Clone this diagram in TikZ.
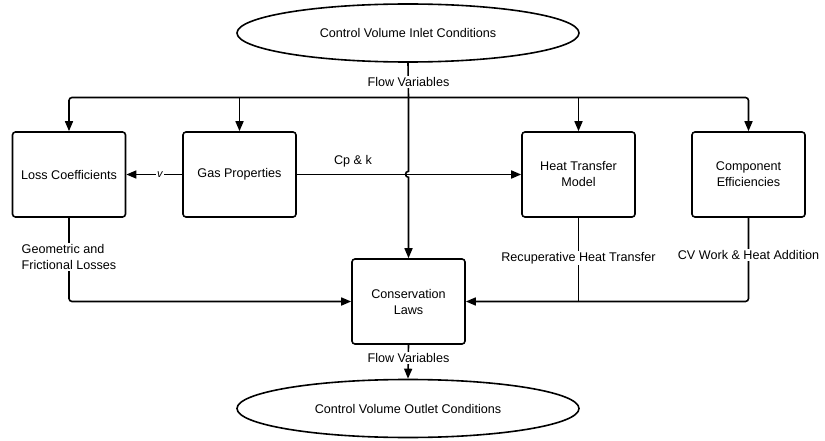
\documentclass[tikz,border=0pt]{standalone}
\usepackage{fontspec}
\setmainfont{Liberation Sans}
\usetikzlibrary{shapes.geometric,arrows.meta}
\begin{document}
\begin{tikzpicture}[x=1pt,y=-1pt,
  every node/.style={font=\fontsize{12.6}{16}\selectfont},
  box/.style={draw, line width=1.6pt, rounded corners=3pt, minimum width=113pt, minimum height=85pt, align=center, inner sep=0pt},
  oval/.style={draw, line width=1.6pt, ellipse, minimum width=342pt, minimum height=58pt, inner sep=0pt},
  conn/.style={line width=1.6pt},
  arr/.style={conn, -{Triangle[length=10pt,width=8pt]}},
  lbl/.style={fill=white, inner sep=1.5pt, align=center}]
\useasboundingbox (0,0) rectangle (825,441);
\node[oval] (in) at (408,33) {Control Volume Inlet Conditions};
\node[oval] (out) at (408,408.5) {Control Volume Outlet Conditions};
\node[box] (loss) at (69,174.5) {Loss Coefficients};
\node[box] (gas) at (239.5,174.5) {Gas Properties};
\node[box] (heat) at (578.5,174.5) {Heat Transfer\\Model};
\node[box] (comp) at (748.5,174.5) {Component\\Efficiencies};
\node[box] (cons) at (408.5,301.5) {Conservation\\Laws};
\coordinate (top) at (408.5,97.5);
\coordinate (hopa) at (408.5,171.3);
\coordinate (hopb) at (408.5,177.3);
% main vertical with hop
\draw[conn] (in.south) -- (top);
\draw[arr] (top) -- (hopa) arc[start angle=270, end angle=90, radius=3] -- (cons.north);
% distribution line
\draw[arr, rounded corners=3pt] (top) -| (loss.north);
\draw[arr, rounded corners=3pt] (top) -| (comp.north);
\draw[arr] (top -| gas.north) -- (gas.north);
\draw[arr] (top -| heat.north) -- (heat.north);
\node[lbl] (fv1) at (408.5,82) {Flow Variables};
% gas connections
\draw[arr] (gas.west) -- (loss.east) node[pos=0.4, fill=white, inner sep=1pt, font=\fontsize{11}{13}\selectfont\itshape] (vl) {v};
\draw[arr] (gas.east) -- (heat.west);
\node (cpk) at (353,161) {Cp \& k};
% returns to conservation laws
\draw[arr, rounded corners=3pt] (loss.south) |- (cons.west);
\draw[arr, rounded corners=3pt] (comp.south) |- (cons.east);
\draw[conn] (heat.south) -- (heat.south |- cons.east);
\node[lbl, align=left, anchor=west] (geo) at (20,257) {Geometric and\\Frictional Losses};
\node[lbl] (rec) at (578.5,258) {Recuperative Heat Transfer};
\node[lbl] (cvw) at (748.5,255) {CV Work \& Heat Addition};
% output
\draw[arr] (cons.south) -- (out.north);
\node[lbl] (fv2) at (408.5,358) {Flow Variables};
\end{tikzpicture}
\end{document}
